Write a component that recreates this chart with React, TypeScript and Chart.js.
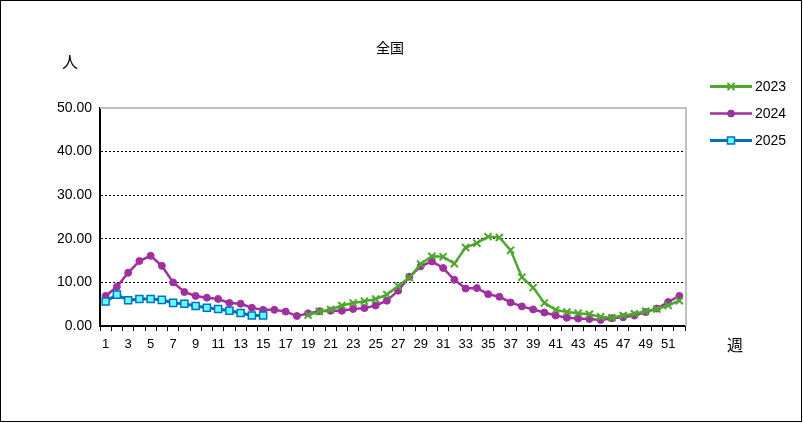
import React, { useEffect, useRef } from "react";
import { Chart, registerables } from "chart.js";

Chart.register(...registerables);

const weeks: string[] = Array.from({ length: 52 }, (_, i) => String(i + 1));

const series2023: (number | null)[] = [
  null, null, null, null, null, null, null, null, null, null,
  null, null, null, null, null, null, null, null,
  2.5, 3.3, 3.8, 4.7, 5.3, 5.7, 6.2, 7.2, 9.2, 11.1,
  14.2, 16.0, 15.9, 14.3, 18.0, 19.0, 20.5, 20.3, 17.4, 11.2,
  8.8, 5.3, 3.7, 3.2, 2.9, 2.7, 2.1, 1.9, 2.4, 2.8,
  3.4, 3.9, 4.7, 5.8,
];

const series2024: number[] = [
  6.9, 9.0, 12.2, 14.9, 16.1, 13.8, 10.0, 7.8, 6.9, 6.5,
  6.2, 5.3, 5.1, 4.2, 3.7, 3.7, 3.3, 2.3, 2.9, 3.4,
  3.5, 3.5, 3.9, 4.1, 4.7, 5.8, 8.1, 11.3, 13.7, 14.8,
  13.3, 10.6, 8.6, 8.7, 7.3, 6.7, 5.4, 4.5, 3.8, 3.1,
  2.4, 1.9, 1.7, 1.6, 1.4, 1.8, 2.0, 2.4, 3.2, 4.0,
  5.5, 6.9,
];

const series2025: number[] = [
  5.6, 7.2, 5.9, 6.2, 6.2, 6.0, 5.3, 5.1, 4.6, 4.2,
  3.9, 3.5, 3.0, 2.4, 2.4,
];

const seriesNames: string[] = ["2023", "2024", "2025"];
const yTicks: number[] = [0, 10, 20, 30, 40, 50];

const GREEN = "#4EA72E";
const PURPLE = "#A0309F";
const BLUE = "#0070C0";
const CYAN = "#66FFFF";

const NUM_FONT = "'Liberation Sans', Arial, sans-serif";
const CJK_FONT = "'Noto Sans CJK JP', sans-serif";

const overlayPlugin = {
  id: "overlay",
  beforeDatasetsDraw(chart: any) {
    const { ctx, chartArea } = chart;
    ctx.save();
    ctx.strokeStyle = "#C0C0C0";
    ctx.lineWidth = 2;
    ctx.beginPath();
    ctx.moveTo(chartArea.left, chartArea.top);
    ctx.lineTo(chartArea.right + 1, chartArea.top);
    ctx.lineTo(chartArea.right + 1, chartArea.bottom);
    ctx.stroke();
    ctx.restore();
  },
  afterDraw(chart: any) {
    const { ctx } = chart;
    ctx.save();
    ctx.fillStyle = "#000";
    ctx.textBaseline = "middle";
    ctx.textAlign = "center";
    ctx.font = `14px ${CJK_FONT}`;
    ctx.fillText("全国", 390, 48);
    ctx.font = `16px ${CJK_FONT}`;
    ctx.fillText("人", 70, 62);
    ctx.fillText("週", 735, 345);

    const rows = [
      { name: seriesNames[0], color: GREEN, style: "crossRot", r: 5, w: 3, fill: GREEN },
      { name: seriesNames[1], color: PURPLE, style: "circle", r: 3.5, w: 2.5, fill: PURPLE },
      { name: seriesNames[2], color: BLUE, style: "rect", r: 5, w: 3, fill: CYAN },
    ];
    rows.forEach((row, i) => {
      const y = 86.5 + i * 27;
      ctx.strokeStyle = row.color;
      ctx.lineWidth = row.w;
      ctx.beginPath();
      ctx.moveTo(710, y);
      ctx.lineTo(752, y);
      ctx.stroke();
      ctx.fillStyle = row.fill;
      ctx.strokeStyle = row.color;
      ctx.lineWidth = row.style === "crossRot" ? 2 : 1.5;
      (Chart as any).helpers?.drawPoint
        ? (Chart as any).helpers.drawPoint(ctx, { pointStyle: row.style, radius: row.r, rotation: 0, borderWidth: ctx.lineWidth }, 731, y)
        : null;
      ctx.fillStyle = "#000";
      ctx.textAlign = "left";
      ctx.font = `14px ${NUM_FONT}`;
      ctx.fillText(row.name, 755, y + 1);
    });
    ctx.restore();
  },
};

function drawMarker(ctx: CanvasRenderingContext2D, style: string, r: number, x: number, y: number) {
  ctx.beginPath();
  if (style === "circle") {
    ctx.arc(x, y, r, 0, Math.PI * 2);
    ctx.fill();
    ctx.stroke();
  } else if (style === "rect") {
    const h = r * Math.SQRT1_2;
    ctx.rect(x - h, y - h, 2 * h, 2 * h);
    ctx.fill();
    ctx.stroke();
  } else {
    const h = r * Math.SQRT1_2;
    ctx.moveTo(x - h, y - h);
    ctx.lineTo(x + h, y + h);
    ctx.moveTo(x - h, y + h);
    ctx.lineTo(x + h, y - h);
    ctx.stroke();
  }
}

const legendPlugin = {
  id: "legendMarkers",
  afterDraw(chart: any) {
    const { ctx } = chart;
    ctx.save();
    const rows = [
      { color: GREEN, style: "crossRot", r: 5, fill: GREEN, lw: 2 },
      { color: PURPLE, style: "circle", r: 3.5, fill: PURPLE, lw: 1 },
      { color: BLUE, style: "rect", r: 5, fill: CYAN, lw: 1.5 },
    ];
    rows.forEach((row, i) => {
      const y = 86.5 + i * 27;
      ctx.fillStyle = row.fill;
      ctx.strokeStyle = row.color;
      ctx.lineWidth = row.lw;
      drawMarker(ctx, row.style, row.r, 731, y);
    });
    ctx.restore();
  },
};

export default function App() {
  const canvasRef = useRef<HTMLCanvasElement | null>(null);

  useEffect(() => {
    if (!canvasRef.current) return;
    const chart = new Chart(canvasRef.current, {
      type: "line",
      data: {
        labels: weeks,
        datasets: [
          {
            label: seriesNames[0],
            data: series2023,
            borderColor: GREEN,
            backgroundColor: GREEN,
            borderWidth: 2.5,
            pointStyle: "crossRot",
            pointRadius: 5,
            pointBorderWidth: 2,
            pointBorderColor: GREEN,
            spanGaps: false,
            order: 1,
          },
          {
            label: seriesNames[1],
            data: series2024,
            borderColor: PURPLE,
            backgroundColor: PURPLE,
            borderWidth: 2.5,
            pointStyle: "circle",
            pointRadius: 3.5,
            pointBorderWidth: 1,
            pointBackgroundColor: PURPLE,
            order: 2,
          },
          {
            label: seriesNames[2],
            data: series2025,
            borderColor: BLUE,
            backgroundColor: CYAN,
            borderWidth: 3,
            pointStyle: "rect",
            pointRadius: 5,
            pointBorderWidth: 1.5,
            pointBorderColor: BLUE,
            pointBackgroundColor: CYAN,
            order: 0,
          },
        ],
      },
      options: {
        animation: false,
        responsive: false,
        maintainAspectRatio: false,
        layout: { padding: { left: 0, right: 118, top: 108, bottom: 0 } },
        plugins: {
          legend: { display: false },
          title: { display: false },
          tooltip: { enabled: false },
        },
        elements: { line: { tension: 0 } },
        scales: {
          x: {
            type: "category",
            offset: true,
            afterFit: (scale: any) => {
              scale.height = 97;
            },
            grid: {
              offset: true,
              drawOnChartArea: false,
              drawTicks: true,
              tickLength: 5,
              color: "#000",
              lineWidth: 1,
            },
            border: { color: "#000", width: 2 },
            ticks: {
              autoSkip: false,
              maxRotation: 0,
              minRotation: 0,
              padding: 6,
              color: "#000",
              font: { family: NUM_FONT, size: 13 },
              callback: (_v: any, i: number) => (i % 2 === 0 ? weeks[i] : ""),
            },
          },
          y: {
            min: yTicks[0],
            max: yTicks[yTicks.length - 1],
            afterFit: (scale: any) => {
              scale.width = 100;
            },
            afterBuildTicks: (scale: any) => {
              scale.ticks = yTicks.map((v) => ({ value: v }));
            },
            grid: {
              drawTicks: false,
              color: (c: any) =>
                c.tick && (c.tick.value === 0 || c.tick.value === 50) ? "rgba(0,0,0,0)" : "#000",
              lineWidth: 1,
            },
            border: { color: "#000", width: 2, dash: [2, 2] } as any,
            ticks: {
              padding: 8,
              color: "#000",
              font: { family: NUM_FONT, size: 14 },
              callback: (v: any) => Number(v).toFixed(2),
            },
          },
        },
      },
      plugins: [overlayPlugin, legendPlugin],
    } as any);
    return () => chart.destroy();
  }, []);

  return (
    <div
      style={{
        position: "fixed",
        left: 0,
        top: 0,
        width: 803,
        height: 423,
        background: "#fff",
      }}
    >
      <canvas ref={canvasRef} width={803} height={423} style={{ display: "block" }} />
      <div
        style={{
          position: "absolute",
          left: 0,
          top: 0,
          width: 802,
          height: 422,
          boxSizing: "border-box",
          border: "1px solid #000",
          pointerEvents: "none",
        }}
      />
    </div>
  );
}
